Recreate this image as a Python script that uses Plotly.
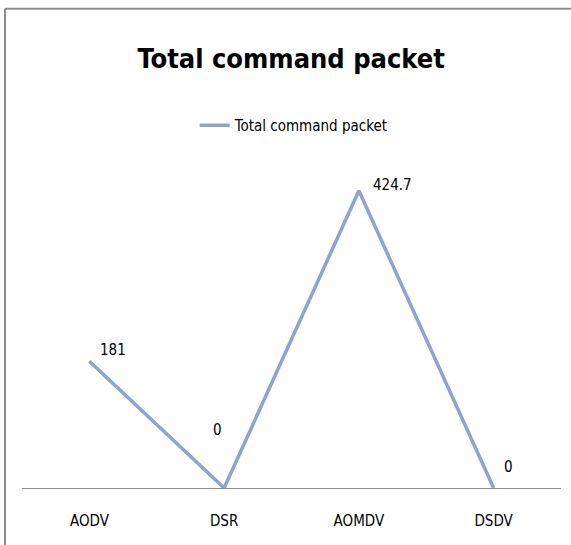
import plotly.graph_objects as go

# Chart data
protocols = ["AODV", "DSR", "AOMDV", "DSDV"]
command_packets = [181, 0, 424.7, 0]
series_name = "Total command packet"
label_texts = ["181", "0", "424.7", "0"]

# Per-label pixel offsets of the value labels from their points
label_dx = [24, -7, 34, 15]
label_dy = [11, 58, 6, 21]

FONT = "DejaVu Sans Condensed, Roboto, sans-serif"
LINE_COLOR = "#8ca4cf"

fig = go.Figure()
fig.add_trace(go.Scatter(
    x=protocols,
    y=command_packets,
    mode="lines",
    name=series_name,
    line=dict(color=LINE_COLOR, width=3.5),
    showlegend=True,
))

annotations = []
for p, v, t, dx, dy in zip(protocols, command_packets, label_texts, label_dx, label_dy):
    annotations.append(dict(
        x=p, y=v, xref="x", yref="y", text=t, showarrow=False,
        xshift=dx, yshift=dy,
        font=dict(family=FONT, size=15, color="#000000"),
    ))

fig.update_layout(
    width=571,
    height=545,
    margin=dict(l=22, r=10, t=138, b=57),
    paper_bgcolor="white",
    plot_bgcolor="white",
    title=dict(
        text="<b>Total command packet</b>",
        x=0.51, xanchor="center",
        y=0.893, yanchor="middle",
        font=dict(family=FONT, size=27, color="#000000"),
    ),
    legend=dict(
        orientation="h",
        x=0.505, xanchor="center",
        y=1.036, yanchor="middle",
        font=dict(family=FONT, size=15, color="#000000"),
        itemwidth=30,
        bgcolor="rgba(0,0,0,0)",
    ),
    xaxis=dict(
        type="category",
        range=[-0.5, 3.5],
        showgrid=False,
        zeroline=False,
        showline=False,
        ticks="",
        tickfont=dict(family=FONT, size=15, color="#000000"),
        ticklabelstandoff=22,
    ),
    yaxis=dict(
        range=[0, 500],
        showgrid=False,
        zeroline=True,
        zerolinecolor="#8c8c8c",
        zerolinewidth=1.3,
        showline=False,
        showticklabels=False,
        ticks="",
    ),
    annotations=annotations,
    shapes=[
        # chart frame edges (top and left)
        dict(type="line", xref="paper", yref="paper",
             x0=-0.0315, x1=1.03, y0=1.369, y1=1.369,
             line=dict(color="#8c8c8c", width=2)),
        dict(type="line", xref="paper", yref="paper",
             x0=-0.0315, x1=-0.0315, y0=1.369, y1=-0.2,
             line=dict(color="#8c8c8c", width=2)),
    ],
)

fig.write_html("out.html")
